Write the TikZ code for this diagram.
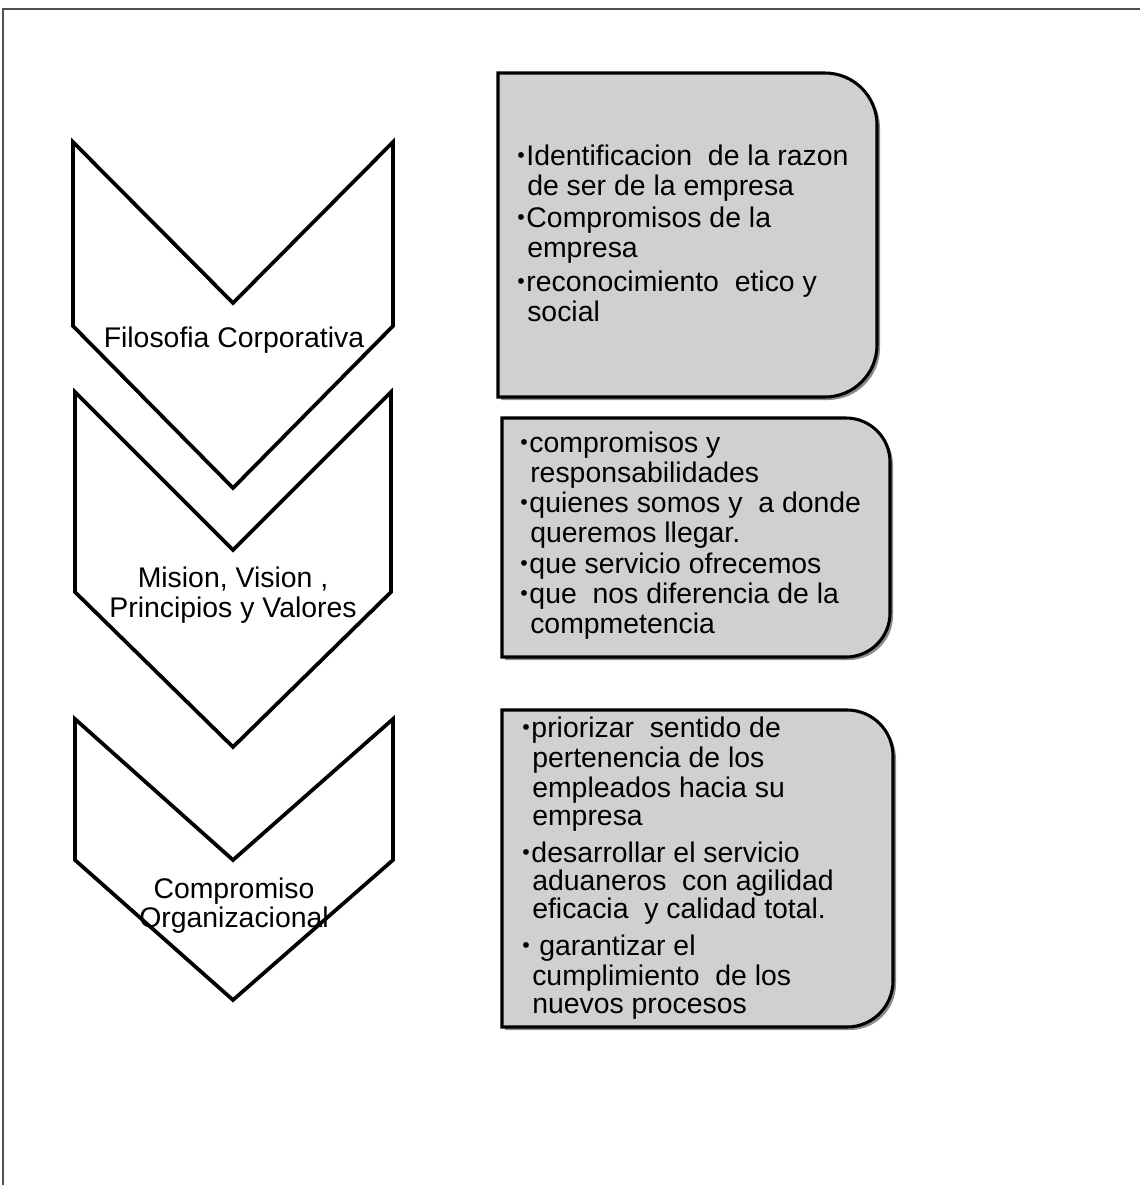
\documentclass[tikz,border=0pt]{standalone}
\usepackage{fontspec}
\setmainfont{Liberation Sans}
\definecolor{cardgray}{RGB}{208,208,208}
\definecolor{framegray}{RGB}{80,80,80}
% card with square left corners and rounded right corners: {left}{top}{right}{bottom}{radius}
\newcommand\cardpath[5]{(#1,#2) -- ({#3-#5},#2)
  .. controls ({#3-0.448*#5},#2) and (#3,{#2+0.448*#5}) .. (#3,{#2+#5})
  -- (#3,{#4-#5})
  .. controls (#3,{#4-0.448*#5}) and ({#3-0.448*#5},#4) .. ({#3-#5},#4)
  -- (#1,#4) -- cycle}
% small list bullet with a fixed advance
\newcommand\blt{\makebox[6.9pt][l]{\raisebox{1.7pt}{\fontsize{16}{16}\selectfont•}}}
\begin{document}
\begin{tikzpicture}[x=0.75pt,y=-0.75pt,
  chev/.style={draw=black,line width=2.8pt,fill=white,line join=miter},
  card/.style={draw=black,line width=2.3pt,fill=cardgray},
  cardshadow/.style={fill=black!45},
  lbl/.style={font=\fontsize{21.3}{25}\selectfont,inner sep=0pt,anchor=base},
  itm/.style={font=\fontsize{21.3}{25}\selectfont,inner sep=0pt,anchor=base west}]
\useasboundingbox (0,0) rectangle (1140,1185);

% page frame (top and left edges)
\draw[framegray,line width=1.5pt] (3,1185) -- (3,9) -- (1140,9);

% chevrons, lowest first so each upper one overlaps the next
\draw[chev] (75,719) -- (233,860) -- (393,719) -- (393,860) -- (233,1000) -- (75,860) -- cycle;
\draw[chev] (75,392) -- (233,550) -- (391,392) -- (391,592) -- (233,747) -- (75,592) -- cycle;
\draw[chev] (73,142) -- (233,303) -- (393,142) -- (393,326) -- (233,488) -- (73,326) -- cycle;

\node[lbl] (c1) at (234,347) {Filosofia Corporativa};
\node[lbl] (c2a) at (233,587) {Mision, Vision ,};
\node[lbl] (c2b) at (233,617) {Principios y Valores};
\node[lbl] (c3a) at (234,898) {Compromiso};
\node[lbl] (c3b) at (234,927) {Organizacional};

% cards
\fill[cardshadow] [shift={(3,3)}] \cardpath{498}{73}{877}{397}{52};
\draw[card] \cardpath{498}{73}{877}{397}{52};
\fill[cardshadow] [shift={(3,3)}] \cardpath{502}{418}{890}{657}{44};
\draw[card] \cardpath{502}{418}{890}{657}{44};
\fill[cardshadow] [shift={(3,3)}] \cardpath{502}{710}{893}{1027}{46};
\draw[card] \cardpath{502}{710}{893}{1027}{46};

% card 1
\node[itm] (a1) at (517,165) {\blt Identificacion~ de la razon};
\node[itm] (a1b) at (527,195) {de ser de la empresa};
\node[itm] (a2) at (517,227) {\blt Compromisos de la};
\node[itm] (a2b) at (527,257) {empresa};
\node[itm] (a3) at (517,291) {\blt reconocimiento~ etico y};
\node[itm] (a3b) at (527,321) {social};

% card 2
\node[itm] (b1) at (520,452) {\blt compromisos y};
\node[itm] (b1b) at (530,482) {responsabilidades};
\node[itm] (b2) at (520,512) {\blt quienes somos y~ a donde};
\node[itm] (b2b) at (530,542) {queremos llegar.};
\node[itm] (b3) at (520,573) {\blt que servicio ofrecemos};
\node[itm] (b4) at (520,603) {\blt que~ nos diferencia de la};
\node[itm] (b4b) at (530,633) {compmetencia};

% card 3
\node[itm] (d1) at (522,737) {\blt priorizar~ sentido de};
\node[itm] (d1b) at (532,767) {pertenencia de los};
\node[itm] (d1c) at (532,797) {empleados hacia su};
\node[itm] (d1d) at (532,825) {empresa};
\node[itm] (d2) at (522,862) {\blt desarrollar el servicio};
\node[itm] (d2b) at (532,890) {aduaneros~ con agilidad};
\node[itm] (d2c) at (532,918) {eficacia~ y calidad total.};
\node[itm] (d3) at (522,955) {\blt\ garantizar el};
\node[itm] (d3b) at (532,985) {cumplimiento~ de los};
\node[itm] (d3c) at (532,1013) {nuevos procesos};
\end{tikzpicture}
\end{document}
